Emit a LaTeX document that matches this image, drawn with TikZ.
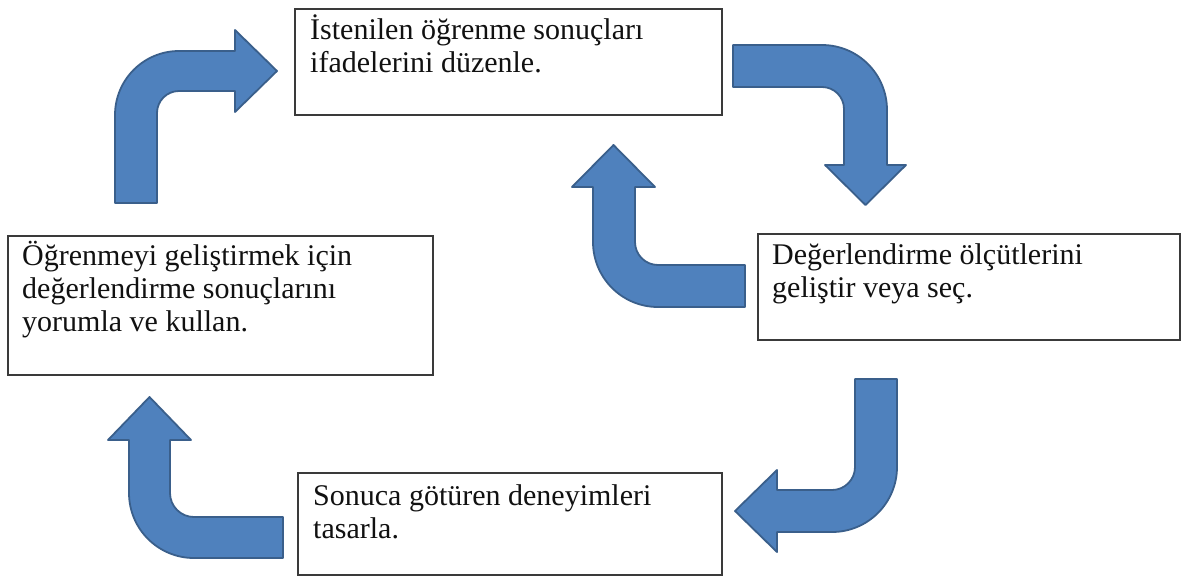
\documentclass[tikz,border=0pt]{standalone}
\usepackage{fontspec}
\setmainfont{Liberation Serif}
\definecolor{arrowfill}{HTML}{4F81BD}
\definecolor{arrowedge}{HTML}{3A5F8B}
\definecolor{boxedge}{HTML}{3A3A3A}
\definecolor{ink}{HTML}{111111}
\begin{document}
\begin{tikzpicture}[x=1pt,y=-1pt,
  stepbox/.style={draw=boxedge, line width=1.3pt, fill=white, rectangle, inner sep=0pt},
  steptext/.style={anchor=base west, inner sep=0pt, text=ink,
    font=\fontsize{30}{33.3}\selectfont},
  bentarrow/.style={fill=arrowfill, draw=arrowedge, line width=1.8pt, line join=round}]
\useasboundingbox (0,0) rectangle (1182,576);

% step boxes
\node[stepbox, minimum width=427pt, minimum height=106pt] (b1) at (508.5,62) {};
\node[stepbox, minimum width=422pt, minimum height=106pt] (b2) at (969,287) {};
\node[stepbox, minimum width=425pt, minimum height=139pt] (b3) at (220.5,305.5) {};
\node[stepbox, minimum width=424pt, minimum height=102pt] (b4) at (510,524) {};

% step texts
\node[steptext] (t1) at (310,39) {\vtop{\hbox{İstenilen öğrenme sonuçları}\hbox{ifadelerini düzenle.}}};
\node[steptext] (t2) at (772,264) {\vtop{\hbox{Değerlendirme ölçütlerini}\hbox{geliştir veya seç.}}};
\node[steptext] (t3) at (22,265) {\vtop{\hbox{Öğrenmeyi geliştirmek için}\hbox{değerlendirme sonuçlarını}\hbox{yorumla ve kullan.}}};
\node[steptext] (t4) at (313,505) {\vtop{\hbox{Sonuca götüren deneyimleri}\hbox{tasarla.}}};

% bent arrow: up, then right into the first box
\draw[bentarrow] (115,203) -- (115,115) arc[start angle=180, end angle=270, radius=64]
  -- (235,51) -- (235,30) -- (277,71) -- (235,112) -- (235,91) -- (179,91)
  arc[start angle=270, end angle=180, radius=22] -- (157,203) -- cycle;

% bent arrow: right, then down
\draw[bentarrow] (733,45) -- (822,45) arc[start angle=270, end angle=360, radius=65]
  -- (887,165) -- (906,165) -- (865.5,205) -- (825,165) -- (844,165) -- (844,109)
  arc[start angle=0, end angle=-90, radius=22] -- (733,87) -- cycle;

% bent arrow: left, then up (middle)
\draw[bentarrow] (745,307) -- (658,307) arc[start angle=90, end angle=180, radius=65]
  -- (593,187) -- (572,187) -- (613.5,145) -- (655,187) -- (635,187) -- (635,242)
  arc[start angle=180, end angle=90, radius=23] -- (745,265) -- cycle;

% bent arrow: down, then left
\draw[bentarrow] (855,379) -- (897,379) -- (897,467) arc[start angle=0, end angle=90, radius=65]
  -- (777,532) -- (777,552) -- (735,511) -- (777,470) -- (777,490) -- (832,490)
  arc[start angle=90, end angle=0, radius=23] -- cycle;

% bent arrow: left, then up (bottom)
\draw[bentarrow] (283,558) -- (194,558) arc[start angle=90, end angle=180, radius=65]
  -- (129,440) -- (108,440) -- (149.5,397) -- (191,440) -- (170,440) -- (170,493)
  arc[start angle=180, end angle=90, radius=24] -- (283,517) -- cycle;
\end{tikzpicture}
\end{document}
